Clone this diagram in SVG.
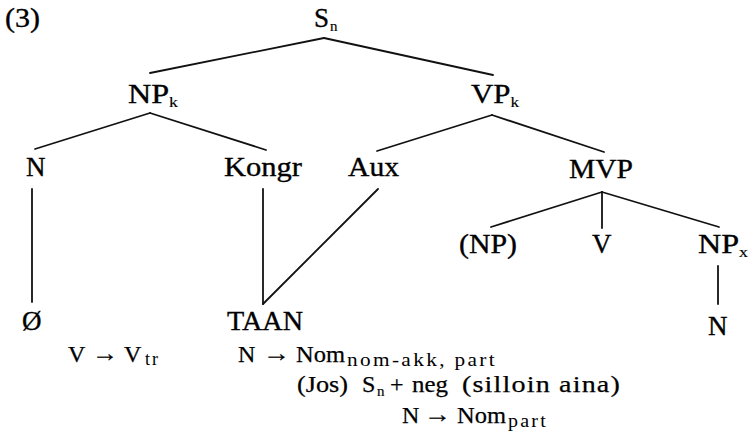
<svg xmlns="http://www.w3.org/2000/svg" width="748" height="441" viewBox="0 0 748 441">
<style>
text{font-family:"Liberation Serif","Times New Roman",serif;fill:#000;stroke:#000;stroke-width:0.35}
.t{font-size:27px}
.b{font-size:24px;stroke-width:0.25}
.s{font-size:15px;stroke-width:0.15}
.bs{font-size:18px;stroke-width:0;letter-spacing:2px}
.sp{letter-spacing:1px}
#edges line{stroke:#111;stroke-width:1.8;stroke-linecap:round}
</style>
<rect width="748" height="441" fill="#fff"/>
<g id="label"><text class="t" x="5" y="27" textLength="35" lengthAdjust="spacingAndGlyphs">(3)</text></g>
<g id="edges">
<line x1="324" y1="38" x2="150" y2="73"/>
<line x1="324" y1="38" x2="493" y2="75"/>
<line x1="150" y1="113" x2="35" y2="149"/>
<line x1="150" y1="113" x2="266" y2="150"/>
<line x1="492" y1="115" x2="377" y2="151"/>
<line x1="492" y1="115" x2="604" y2="152"/>
<line x1="32" y1="189" x2="32" y2="302"/>
<line x1="263" y1="189" x2="263" y2="304"/>
<line x1="378" y1="189" x2="263" y2="304"/>
<line x1="602" y1="192" x2="491" y2="227"/>
<line x1="602" y1="192" x2="602" y2="228"/>
<line x1="602" y1="192" x2="719" y2="227"/>
<line x1="718" y1="266" x2="718" y2="304"/>
</g>
<g id="S"><text class="t" x="314" y="27">S<tspan class="s" dy="4" dx="1">n</tspan></text></g>
<g id="NPk"><text class="t" x="128" y="103" textLength="50" lengthAdjust="spacingAndGlyphs">NP<tspan class="s" dy="4">k</tspan></text></g>
<g id="VPk"><text class="t" x="471" y="103" textLength="48" lengthAdjust="spacingAndGlyphs">VP<tspan class="s" dy="4">k</tspan></text></g>
<g id="N1"><text class="t" x="26" y="176">N</text></g>
<g id="Kongr"><text class="t" x="224" y="176" textLength="78" lengthAdjust="spacingAndGlyphs">Kongr</text></g>
<g id="Aux"><text class="t" x="348" y="176" textLength="51" lengthAdjust="spacingAndGlyphs">Aux</text></g>
<g id="MVP"><text class="t" x="569" y="178" textLength="64" lengthAdjust="spacingAndGlyphs">MVP</text></g>
<g id="NPopt"><text class="t" x="459" y="253" textLength="58" lengthAdjust="spacingAndGlyphs">(NP)</text></g>
<g id="V"><text class="t" x="592" y="253">V</text></g>
<g id="NPx"><text class="t" x="698" y="253" textLength="50" lengthAdjust="spacingAndGlyphs">NP<tspan class="s" dy="4">x</tspan></text></g>
<g id="Null"><text class="t" x="22" y="330">Ø</text></g>
<g id="TAAN"><text class="t" x="227" y="330" textLength="76" lengthAdjust="spacingAndGlyphs">TAAN</text></g>
<g id="N2"><text class="t" x="708" y="335">N</text></g>
<g id="rules">
<text class="b" x="68" y="362">V</text>
<text class="b" x="92" y="361" textLength="26" lengthAdjust="spacingAndGlyphs">→</text>
<text class="b" x="124" y="362">V</text>
<text class="bs" x="145" y="365" textLength="15" lengthAdjust="spacingAndGlyphs">tr</text>
<text class="b" x="238" y="362">N</text>
<text class="b" x="263" y="361" textLength="27" lengthAdjust="spacingAndGlyphs">→</text>
<text class="b" x="296" y="362" textLength="49" lengthAdjust="spacingAndGlyphs">Nom</text>
<text class="bs" x="347" y="366" textLength="150" lengthAdjust="spacingAndGlyphs">nom-akk, part</text>
<text class="b" x="297" y="392" textLength="51" lengthAdjust="spacingAndGlyphs">(Jos)</text>
<text class="b" x="362" y="392">S</text>
<text class="s" x="377" y="396">n</text>
<text class="b" x="390" y="392">+</text>
<text class="b" x="412" y="392" textLength="36" lengthAdjust="spacingAndGlyphs">neg</text>
<text class="b sp" x="462" y="392" textLength="159" lengthAdjust="spacingAndGlyphs">(silloin aina)</text>
<text class="b" x="402" y="423">N</text>
<text class="b" x="424" y="422" textLength="27" lengthAdjust="spacingAndGlyphs">→</text>
<text class="b" x="457" y="423" textLength="49" lengthAdjust="spacingAndGlyphs">Nom</text>
<text class="bs" x="508" y="427" textLength="40" lengthAdjust="spacingAndGlyphs">part</text>
</g>
</svg>
